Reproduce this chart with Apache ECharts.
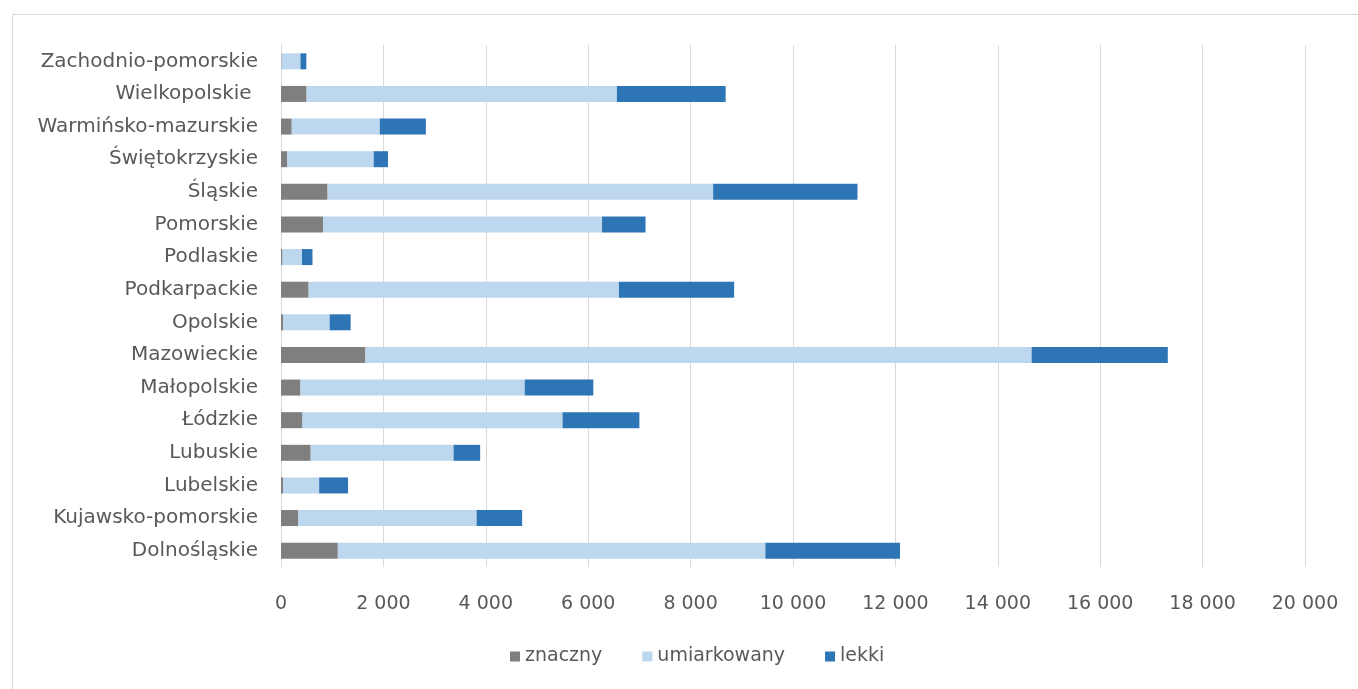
<!DOCTYPE html>
<html>
<head>
<meta charset="utf-8">
<script src="https://cdn.jsdelivr.net/npm/echarts@6/dist/echarts.min.js"></script>
<style>
html,body{margin:0;padding:0;background:#fff;}
#chart{width:1358px;height:689px;}
</style>
</head>
<body>
<div id="chart"></div>
<script>
const categories = ["Dolnośląskie","Kujawsko-pomorskie","Lubelskie","Lubuskie","Łódzkie","Małopolskie","Mazowieckie","Opolskie","Podkarpackie","Podlaskie","Pomorskie","Śląskie","Świętokrzyskie","Warmińsko-mazurskie","Wielkopolskie ","Zachodnio-pomorskie"];
const znaczny = [1110, 340, 40, 580, 420, 380, 1650, 40, 540, 30, 820, 910, 125, 210, 500, 10];
const umiarkowany = [8350, 3480, 705, 2790, 5080, 4380, 13010, 910, 6060, 380, 5450, 7530, 1685, 1720, 6060, 370];
const lekki = [2630, 890, 565, 520, 1500, 1340, 2660, 410, 2250, 205, 850, 2820, 280, 900, 2125, 115];
const seriesNames = ["znaczny","umiarkowany","lekki"];
const colors = ["#7f7f7f","#bdd7ee","#2e75b6"];

const fmt = v => String(v).replace(/\B(?=(\d{3})+(?!\d))/g, ' ');
const font = "DejaVu Sans";
const chart = echarts.init(document.getElementById('chart'));
chart.setOption({
  animation:false,
  color: colors,
  graphic:[{type:'rect',shape:{x:12.5,y:14.5,width:1360,height:690},style:{fill:'none',stroke:'#d9d9d9',lineWidth:1}}],
  grid:{left:281,right:53,top:45,bottom:122},
  legend:{
    data:seriesNames, bottom:18, left:505, itemWidth:10, itemHeight:10, itemGap:40,
    icon:'rect',
    textStyle:{color:'#595959',fontSize:19,fontFamily:font}
  },
  xAxis:{
    type:'value', min:0, max:20000, interval:2000,
    axisLine:{show:false}, axisTick:{show:false},
    splitLine:{lineStyle:{color:'#d9d9d9',width:1}},
    axisLabel:{color:'#595959',fontSize:19,fontFamily:font,margin:28,formatter:fmt}
  },
  yAxis:{
    type:'category', data:categories,
    axisLine:{show:true,lineStyle:{color:'#d9d9d9'}}, axisTick:{show:false},
    axisLabel:{color:'#595959',fontSize:20,fontFamily:font,margin:23}
  },
  series: [znaczny, umiarkowany, lekki].map((d,i)=>({
    name:seriesNames[i], type:'bar', stack:'total', data:d, barWidth:16
  }))
});
</script>
</body>
</html>
